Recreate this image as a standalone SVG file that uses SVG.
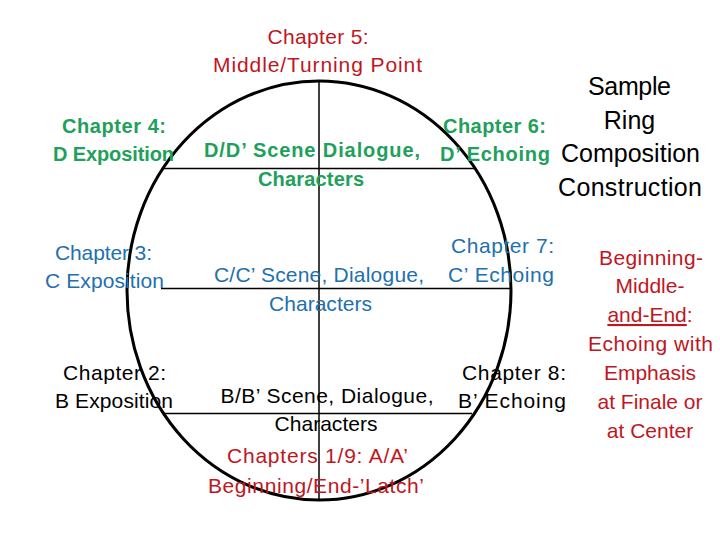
<svg xmlns="http://www.w3.org/2000/svg" width="720" height="540" viewBox="0 0 720 540">
<style>
text{font-family:"Liberation Sans",Arial,sans-serif;font-size:21px;text-anchor:middle}
.red{fill:#C0161E}
.grn{fill:#21A05B;font-weight:bold;font-size:20px}
.blu{fill:#2270AE}
.blk{fill:#000}
.big{font-size:25px;fill:#000}
.ln{stroke:#000;stroke-width:1.5;fill:none}
</style>
<rect width="720" height="540" fill="#fff"/>
<g id="connectors">
<ellipse cx="319" cy="290.5" rx="192" ry="209.5" fill="none" stroke="#000" stroke-width="3"/>
<line class="ln" x1="319" y1="81" x2="319" y2="500"/>
<line class="ln" x1="163" y1="168.5" x2="474" y2="168.5"/>
<line class="ln" x1="161" y1="288.5" x2="510" y2="288.5"/>
<line class="ln" x1="164" y1="413.5" x2="472" y2="413.5"/>
</g>
<g id="ch5"><text class="red" x="318" y="44" textLength="101">Chapter 5:</text><text class="red" x="317.5" y="72" textLength="209">Middle/Turning Point</text></g>
<g id="ch4"><text class="grn" x="114" y="133" textLength="104">Chapter 4:</text><text class="grn" x="113.5" y="161" textLength="121">D Exposition</text></g>
<g id="dscene"><text class="grn" x="312" y="157" textLength="216">D/D’ Scene Dialogue,</text><text class="grn" x="311" y="186" textLength="106">Characters</text></g>
<g id="ch6"><text class="grn" x="494.5" y="133" textLength="103">Chapter 6:</text><text class="grn" x="495" y="161" textLength="110">D’ Echoing</text></g>
<g id="title"><text class="big" x="629.5" y="95" textLength="83">Sample</text><text class="big" x="629.5" y="129">Ring</text><text class="big" x="630.5" y="162" textLength="139">Composition</text><text class="big" x="630" y="196" textLength="144">Construction</text></g>
<g id="ch3"><text class="blu" x="103.5" y="260" textLength="97">Chapter 3:</text><text class="blu" x="104.5" y="288" textLength="119">C Exposition</text></g>
<g id="cscene"><text class="blu" x="319" y="282" textLength="210">C/C’ Scene, Dialogue,</text><text class="blu" x="320.5" y="311" textLength="103">Characters</text></g>
<g id="ch7"><text class="blu" x="502.5" y="253" textLength="103">Chapter 7:</text><text class="blu" x="501" y="282" textLength="106">C’ Echoing</text></g>
<g id="note"><text class="red" x="651" y="265" textLength="104">Beginning-</text><text class="red" x="650" y="293">Middle-</text><text class="red" x="650" y="322"><tspan text-decoration="underline">and-End</tspan>:</text><text class="red" x="650.5" y="351" textLength="125">Echoing with</text><text class="red" x="650" y="380">Emphasis</text><text class="red" x="650" y="409">at Finale or</text><text class="red" x="650" y="438">at Center</text></g>
<g id="ch2"><text class="blk" x="114.5" y="380" textLength="103">Chapter 2:</text><text class="blk" x="114" y="408" textLength="118">B Exposition</text></g>
<g id="bscene"><text class="blk" x="327" y="403" textLength="213">B/B’ Scene, Dialogue,</text><text class="blk" x="326" y="431" textLength="103">Characters</text></g>
<g id="ch8"><text class="blk" x="514" y="380" textLength="104">Chapter 8:</text><text class="blk" x="512" y="408" textLength="108">B’ Echoing</text></g>
<g id="ch19"><text class="red" x="317.5" y="463" textLength="181">Chapters 1/9: A/A’</text><text class="red" x="316" y="493" textLength="216">Beginning/End-’Latch’</text></g>
</svg>
